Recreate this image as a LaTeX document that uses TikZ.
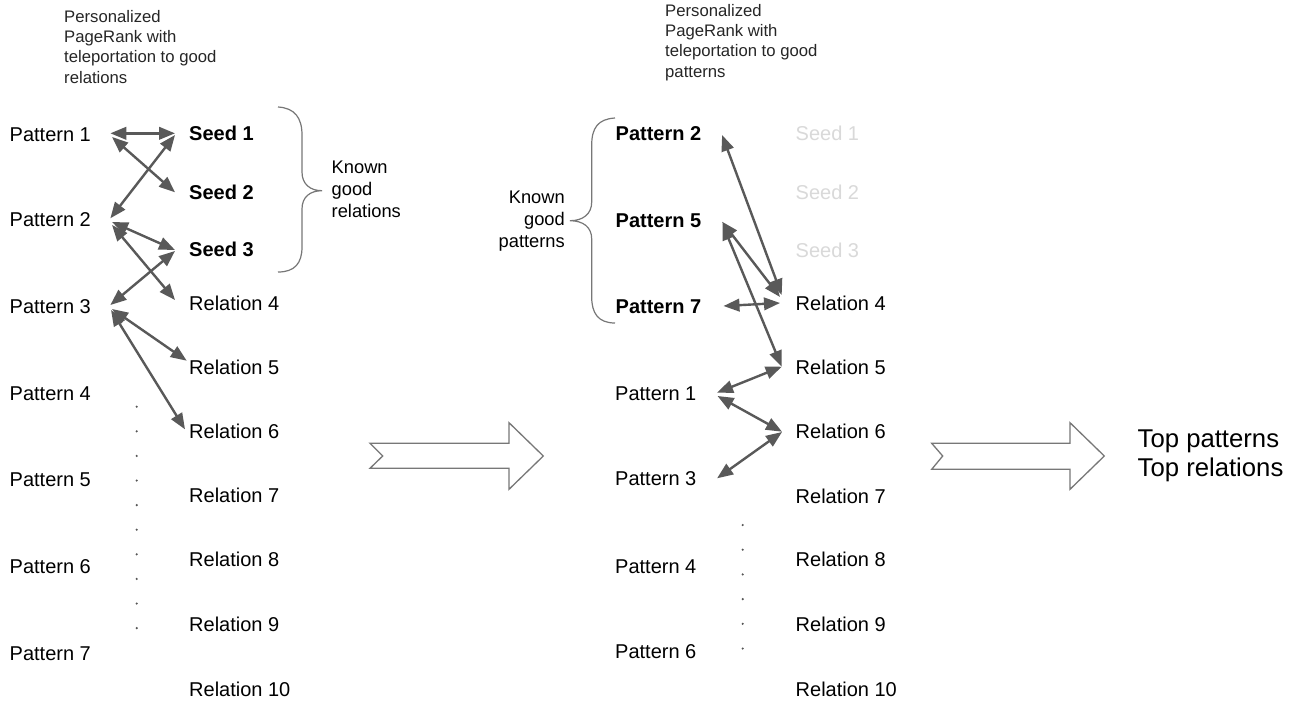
\documentclass[tikz,border=0pt]{standalone}
\usepackage{fontspec}
\setmainfont{Liberation Sans}
\usetikzlibrary{arrows.meta}
\definecolor{arrowgray}{HTML}{595959}
\definecolor{outlinegray}{HTML}{777777}
\definecolor{fadedgray}{HTML}{D9D9D9}
\definecolor{dotgray}{HTML}{555555}
\tikzset{
  lbl/.style={font=\fontsize{20}{24}\selectfont, inner sep=0pt, anchor=base west},
  boldlbl/.style={lbl, font=\fontsize{20}{24}\selectfont\bfseries},
  fadedlbl/.style={boldlbl, font=\fontsize{20}{24}\selectfont, text=fadedgray},
  header/.style={font=\fontsize{16.7}{20.3}\selectfont, align=left, inner sep=0pt, anchor=north west, text=black!85},
  note/.style={font=\fontsize{18.3}{22}\selectfont, inner sep=0pt},
  result/.style={font=\fontsize{25.7}{28.7}\selectfont, align=left, inner sep=0pt, anchor=north west},
  conn/.style={draw=arrowgray, line width=2.4pt,
    {Triangle[length=16pt,width=12.5pt]}-{Triangle[length=16pt,width=12.5pt]}},
  brace/.style={draw=outlinegray, line width=1.2pt},
  bigarrow/.style={draw=outlinegray, line width=1.3pt, fill=white, line join=miter},
  dotmark/.style={fill=dotgray, draw=none},
}
\begin{document}
\begin{tikzpicture}[x=1pt,y=-1pt]
\useasboundingbox[fill=white] (0,0) rectangle (1306,702);

% ---------- first stage: walk from good relations ----------
\node[header] (hdrA) at (64,9.8) {Personalized\\PageRank with\\teleportation to good\\relations};

\node[lbl] (lp1) at (9.5,141.7) {Pattern 1};
\node[lbl] (lp2) at (9.5,226.7) {Pattern 2};
\node[lbl] (lp3) at (9.5,313)   {Pattern 3};
\node[lbl] (lp4) at (9.5,400)   {Pattern 4};
\node[lbl] (lp5) at (9.5,486.7) {Pattern 5};
\node[lbl] (lp6) at (9.5,573)   {Pattern 6};
\node[lbl] (lp7) at (9.5,660)   {Pattern 7};

\node[boldlbl] (ls1) at (189,140)   {Seed 1};
\node[boldlbl] (ls2) at (189,199.3) {Seed 2};
\node[boldlbl] (ls3) at (189,256.7) {Seed 3};
\node[lbl] (lr4)  at (189,310)   {Relation 4};
\node[lbl] (lr5)  at (189,374)   {Relation 5};
\node[lbl] (lr6)  at (189,438.3) {Relation 6};
\node[lbl] (lr7)  at (189,502.7) {Relation 7};
\node[lbl] (lr8)  at (189,566.7) {Relation 8};
\node[lbl] (lr9)  at (189,631.7) {Relation 9};
\node[lbl] (lr10) at (189,696)   {Relation 10};

\foreach \k in {0,...,9}
  \fill[dotmark] (136.7,406.7+24.6*\k) circle (1.2);

\draw[brace] (278,107) .. controls (295,108) and (302,118) .. (302,135)
  -- (302,172) .. controls (302,184) and (310,190.7) .. (322,190.7)
  .. controls (310,190.7) and (302,197) .. (302,209)
  -- (302,247) .. controls (302,263) and (295,272) .. (278,272);
\node[note, align=left, anchor=north west] (knownA) at (331.5,161) {Known\\good\\relations};

\draw[conn] ([shift={(19.3,-8.4)}]lp1.base east) -- ([shift={(-14,-6.7)}]ls1.base west);
\draw[conn] ([shift={(21,-4.7)}]lp1.base east) -- ([shift={(-14,-7)}]ls2.base west);
\draw[conn] ([shift={(-14,-5)}]ls1.base west) -- ([shift={(19.3,-8.4)}]lp2.base east);
\draw[conn] ([shift={(21,-4.7)}]lp2.base east) -- ([shift={(-14,-6.7)}]ls3.base west);
\draw[conn] ([shift={(21,-1.7)}]lp2.base east) -- ([shift={(-14,-10)}]lr4.base west);
\draw[conn] ([shift={(-14,-5.7)}]ls3.base west) -- ([shift={(19.3,-8)}]lp3.base east);
\draw[conn] ([shift={(21,-4)}]lp3.base east) -- ([shift={(-2.3,-13.3)}]lr5.base west);
\draw[conn] ([shift={(20,-3)}]lp3.base east) -- ([shift={(-4,-9)}]lr6.base west);

% ---------- stage arrow ----------
\draw[bigarrow] (370,443.3) -- (509,443.3) -- (509,422.7) -- (543.3,456)
  -- (509,489.3) -- (509,468.3) -- (370,468.3) -- (382.7,456) -- cycle;

% ---------- second stage: walk from good patterns ----------
\node[header] (hdrB) at (665,4) {Personalized\\PageRank with\\teleportation to good\\patterns};

\node[boldlbl] (mp2) at (615.5,140.7) {Pattern 2};
\node[boldlbl] (mp5) at (615.5,227)   {Pattern 5};
\node[boldlbl] (mp7) at (615.5,313)   {Pattern 7};
\node[lbl] (mp1) at (615,400)   {Pattern 1};
\node[lbl] (mp3) at (615,485.7) {Pattern 3};
\node[lbl] (mp4) at (615,573)   {Pattern 4};
\node[lbl] (mp6) at (615,658)   {Pattern 6};

\node[fadedlbl] (ms1) at (795.5,140) {Seed 1};
\node[fadedlbl] (ms2) at (795.5,199) {Seed 2};
\node[fadedlbl] (ms3) at (795.5,257) {Seed 3};
\node[lbl] (mr4)  at (795.5,310.7) {Relation 4};
\node[lbl] (mr5)  at (795.5,374)   {Relation 5};
\node[lbl] (mr6)  at (795.5,438)   {Relation 6};
\node[lbl] (mr7)  at (795.5,503)   {Relation 7};
\node[lbl] (mr8)  at (795.5,566.7) {Relation 8};
\node[lbl] (mr9)  at (795.5,631.7) {Relation 9};
\node[lbl] (mr10) at (795.5,696)   {Relation 10};

\foreach \k in {0,...,5}
  \fill[dotmark] (742.7,525+24.7*\k) circle (1.2);

\draw[brace] (615,118) .. controls (598,119) and (591.7,128) .. (591.7,145)
  -- (591.7,202) .. controls (591.7,214) and (583,220.7) .. (570,220.7)
  .. controls (583,220.7) and (591.7,227) .. (591.7,239)
  -- (591.7,297) .. controls (591.7,313) and (598,323) .. (615,323);
\node[note, align=right, anchor=north east] (knownB) at (565,191) {Known\\good\\patterns};

\draw[conn] ([shift={(20.6,-5.7)}]mp2.base east) -- ([shift={(-13.8,-15.7)}]mr4.base west);
\draw[conn] ([shift={(20.6,-5.3)}]mp5.base east) -- ([shift={(-15.5,-13.7)}]mr4.base west);
\draw[conn] ([shift={(21,-3)}]mp5.base east) -- ([shift={(-13.8,-7.3)}]mr5.base west);
\draw[conn] ([shift={(22,-7)}]mp7.base east) -- ([shift={(-15.5,-7.7)}]mr4.base west);
\draw[conn] ([shift={(20.5,-7.3)}]mp1.base east) -- ([shift={(-13.8,-7.3)}]mr5.base west);
\draw[conn] ([shift={(21,-4)}]mp1.base east) -- ([shift={(-13.5,-6.3)}]mr6.base west);
\draw[conn] ([shift={(20.5,-7.4)}]mp3.base east) -- ([shift={(-13.5,-6)}]mr6.base west);

% ---------- output ----------
\draw[bigarrow] (931.7,443.3) -- (1070,443.3) -- (1070,422.7) -- (1104.3,456)
  -- (1070,489.3) -- (1070,469.3) -- (931.7,469.3) -- (942.7,456) -- cycle;
\node[result] (top) at (1137.5,430) {Top patterns\\Top relations};
\end{tikzpicture}
\end{document}
